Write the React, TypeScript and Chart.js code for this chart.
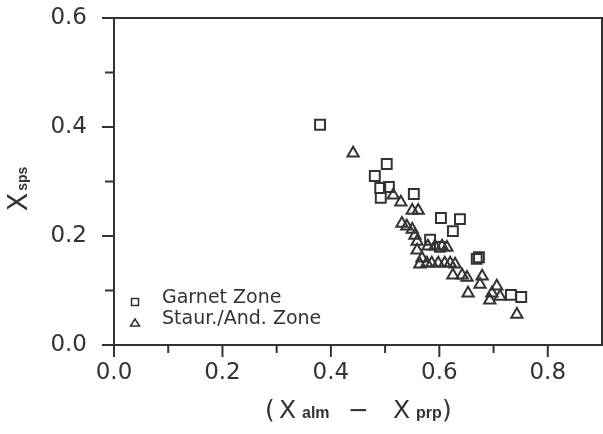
import React, { useEffect, useRef } from "react";
import { Chart, registerables } from "chart.js";

Chart.register(...registerables);

// Garnet Zone (squares)
const garnetX = [0.380, 0.503, 0.481, 0.491, 0.507, 0.492, 0.553, 0.603, 0.638, 0.625, 0.583, 0.601, 0.669, 0.673, 0.732, 0.751];
const garnetY = [0.404, 0.332, 0.310, 0.288, 0.290, 0.270, 0.277, 0.233, 0.231, 0.209, 0.193, 0.180, 0.158, 0.161, 0.092, 0.088];

// Staur./And. Zone (triangles)
const staurX = [0.441, 0.515, 0.529, 0.550, 0.561, 0.531, 0.540, 0.550, 0.555, 0.559, 0.559, 0.568, 0.564, 0.579, 0.592, 0.605, 0.614, 0.577, 0.586, 0.598, 0.610, 0.620, 0.629, 0.625, 0.642, 0.651, 0.679, 0.675, 0.653, 0.706, 0.697, 0.712, 0.693, 0.743];
const staurY = [0.352, 0.275, 0.262, 0.247, 0.247, 0.223, 0.218, 0.212, 0.201, 0.190, 0.174, 0.159, 0.148, 0.181, 0.181, 0.181, 0.179, 0.150, 0.150, 0.150, 0.150, 0.150, 0.148, 0.128, 0.128, 0.124, 0.126, 0.111, 0.095, 0.108, 0.095, 0.089, 0.082, 0.056];

const seriesLabels = ["Garnet Zone", "Staur./And. Zone"];

const xMajorTicks = [0.0, 0.2, 0.4, 0.6, 0.8];
const xMinorTicks = [0.1, 0.3, 0.5, 0.7];
const yMajorTicks = [0.0, 0.2, 0.4, 0.6];
const yMinorTicks = [0.1, 0.3, 0.5];

// x title pieces: text, subscript?, left offset from chart-area centre
const xTitleParts = [
  { t: "(", sub: false, dx: -93 },
  { t: "X", sub: false, dx: -79 },
  { t: "alm", sub: true, dx: -56 },
  { t: "\u2212", sub: false, dx: -10 },
  { t: "X", sub: false, dx: 35 },
  { t: "prp", sub: true, dx: 58 },
  { t: ")", sub: false, dx: 84 },
];
const yTitleParts = [
  { t: "X", sub: false },
  { t: "sps", sub: true },
];

const INK = "#333333";
const MAIN_FONT = "DejaVu Sans";
const SUB_FONT = "Liberation Sans";

const framePlugin = {
  id: "framePlugin",
  afterDraw(chart: any) {
    const ctx = chart.ctx as CanvasRenderingContext2D;
    const { left, right, top, bottom } = chart.chartArea;
    const xs = chart.scales.x;
    const ys = chart.scales.y;
    ctx.save();
    ctx.strokeStyle = INK;
    ctx.lineWidth = 2;
    ctx.lineCap = "butt";
    // frame
    ctx.strokeRect(left, top, right - left, bottom - top);
    // x ticks
    const tickX = (v: number, len: number) => {
      const p = xs.getPixelForValue(v);
      ctx.beginPath();
      ctx.moveTo(p, bottom);
      ctx.lineTo(p, bottom + len);
      ctx.stroke();
    };
    xMajorTicks.forEach((v) => tickX(v, 12));
    xMinorTicks.forEach((v) => tickX(v, 8));
    const tickY = (v: number, len: number) => {
      const p = ys.getPixelForValue(v);
      ctx.beginPath();
      ctx.moveTo(left - len, p);
      ctx.lineTo(left, p);
      ctx.stroke();
    };
    yMajorTicks.forEach((v) => tickY(v, 12));
    yMinorTicks.forEach((v) => tickY(v, 9));

    // legend
    ctx.lineWidth = 1.5;
    const lx = left + 21;
    const ly1 = bottom - 43;
    const ly2 = bottom - 22;
    ctx.strokeRect(lx - 3.5, ly1 - 3.5, 7, 7);
    ctx.beginPath();
    ctx.moveTo(lx, ly2 - 4);
    ctx.lineTo(lx + 4.5, ly2 + 3);
    ctx.lineTo(lx - 4.5, ly2 + 3);
    ctx.closePath();
    ctx.stroke();
    ctx.fillStyle = INK;
    ctx.font = `19px '${MAIN_FONT}'`;
    ctx.textAlign = "left";
    ctx.textBaseline = "alphabetic";
    ctx.fillText(chart.data.datasets[0].label, left + 48, ly1 + 1);
    ctx.fillText(chart.data.datasets[1].label, left + 48, ly2 + 1);

    // x title
    const mainX = `25px '${MAIN_FONT}'`;
    const subX = `bold 16px '${SUB_FONT}'`;
    const cxm = (left + right) / 2;
    const baseX = 418;
    xTitleParts.forEach((p) => {
      ctx.font = p.sub ? subX : mainX;
      ctx.fillText(p.t, cxm + p.dx, baseX);
    });

    // y title (rotated)
    const mainY = `27px '${MAIN_FONT}'`;
    const subY = `bold 14px '${SUB_FONT}'`;
    let total = 0;
    yTitleParts.forEach((p) => {
      ctx.font = p.sub ? subY : mainY;
      total += ctx.measureText(p.t).width + (p.sub ? 2 : 0);
    });
    ctx.translate(27, 189);
    ctx.rotate(-Math.PI / 2);
    let cy = -total / 2;
    yTitleParts.forEach((p) => {
      ctx.font = p.sub ? subY : mainY;
      if (p.sub) cy += 2;
      ctx.fillText(p.t, cy, 0);
      cy += ctx.measureText(p.t).width;
    });
    ctx.restore();
  },
};

export default function App() {
  const ref = useRef<HTMLCanvasElement | null>(null);
  useEffect(() => {
    if (!ref.current) return;
    const chart = new Chart(ref.current, {
      type: "scatter",
      data: {
        datasets: [
          {
            label: seriesLabels[0],
            data: garnetX.map((x, i) => ({ x, y: garnetY[i] })),
            pointStyle: "rect",
            pointRadius: 7,
            pointHoverRadius: 7,
            borderColor: INK,
            backgroundColor: "rgba(0,0,0,0)",
            borderWidth: 2,
          },
          {
            label: seriesLabels[1],
            data: staurX.map((x, i) => ({ x, y: staurY[i] })),
            pointStyle: "triangle",
            pointRadius: 6.5,
            pointHoverRadius: 6.5,
            borderColor: INK,
            backgroundColor: "rgba(0,0,0,0)",
            borderWidth: 2,
          },
        ],
      },
      options: {
        animation: false,
        responsive: false,
        devicePixelRatio: 1,
        layout: { autoPadding: false, padding: { top: 18, right: 1, bottom: 0, left: 0 } },
        plugins: {
          legend: { display: false },
          tooltip: { enabled: false },
        },
        scales: {
          x: {
            type: "linear",
            min: 0,
            max: 0.9,
            afterBuildTicks: (s: any) => {
              s.ticks = xMajorTicks.map((v) => ({ value: v }));
            },
            afterFit: (s: any) => {
              s.height = 89;
              s.paddingLeft = 0;
              s.paddingRight = 0;
            },
            ticks: {
              font: { family: MAIN_FONT, size: 23 },
              color: INK,
              padding: 3,
              maxRotation: 0,
              autoSkip: false,
              callback: (v: any) => Number(v).toFixed(1),
            },
            grid: { display: false, drawTicks: true, tickLength: 11 },
            border: { display: false },
          },
          y: {
            type: "linear",
            min: 0,
            max: 0.6,
            afterBuildTicks: (s: any) => {
              s.ticks = yMajorTicks.map((v) => ({ value: v }));
            },
            afterFit: (s: any) => {
              s.width = 114;
              s.paddingTop = 0;
              s.paddingBottom = 0;
            },
            ticks: {
              font: { family: MAIN_FONT, size: 23 },
              color: INK,
              padding: 16,
              autoSkip: false,
              callback: (v: any) => Number(v).toFixed(1),
            },
            grid: { display: false, drawTicks: true, tickLength: 11 },
            border: { display: false },
          },
        },
      },
      plugins: [framePlugin],
    });
    return () => chart.destroy();
  }, []);

  return (
    <div style={{ position: "fixed", left: 0, top: 0, width: 603, height: 434, background: "#fff" }}>
      <canvas ref={ref} width={603} height={434} style={{ width: 603, height: 434 }} />
    </div>
  );
}
